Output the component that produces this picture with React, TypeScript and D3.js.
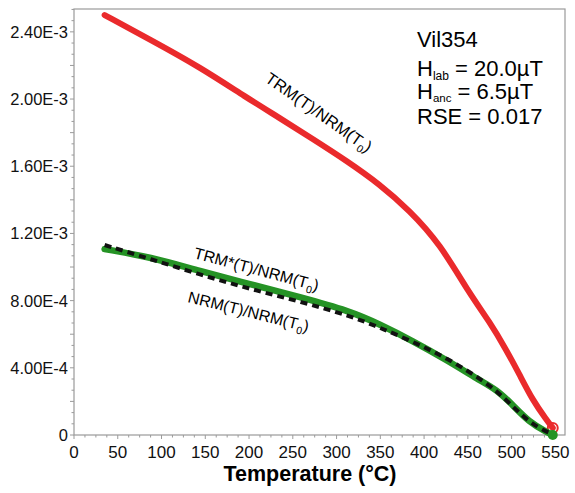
import React from 'react';
import * as d3 from 'd3';

const W = 575;
const H = 493;
const plot = { left: 74, top: 9, right: 565, bottom: 435 };

const xTicks = [0, 50, 100, 150, 200, 250, 300, 350, 400, 450, 500, 550];
const yTicks = [0, 4e-4, 8e-4, 1.2e-3, 1.6e-3, 2.0e-3, 2.4e-3];
const yTickLabels = ['0', '4.00E-4', '8.00E-4', '1.20E-3', '1.60E-3', '2.00E-3', '2.40E-3'];

// TRM(T)/NRM(T0)
const trmTemps = [35, 87, 144, 197, 235, 273, 312, 349, 383, 418, 452, 475, 494, 509, 524, 540, 547];
const trmValues = [
  2.5e-3, 2.354e-3, 2.19e-3, 2.009e-3, 1.887e-3, 1.762e-3, 1.631e-3, 1.494e-3, 1.339e-3,
  1.14e-3, 0.84e-3, 0.673e-3, 0.506e-3, 0.36e-3, 0.208e-3, 0.089e-3, 0.042e-3,
];

// TRM*(T)/NRM(T0)
const trmStarTemps = [35, 87, 144, 201, 258, 315, 349, 387, 426, 463, 483, 501, 520, 540, 547];
const trmStarValues = [
  1.107e-3, 1.06e-3, 0.975e-3, 0.899e-3, 0.821e-3, 0.738e-3, 0.66e-3, 0.56e-3, 0.446e-3,
  0.327e-3, 0.27e-3, 0.18e-3, 0.077e-3, 0.018e-3, 0.0,
];

// NRM(T)/NRM(T0)
const nrmTemps = [35, 87, 144, 201, 258, 315, 349, 387, 426, 463, 483, 501, 520, 540, 547];
const nrmValues = [
  1.131e-3, 1.048e-3, 0.955e-3, 0.869e-3, 0.795e-3, 0.71e-3, 0.64e-3, 0.556e-3, 0.458e-3,
  0.339e-3, 0.262e-3, 0.172e-3, 0.077e-3, 0.018e-3, 0.006e-3,
];

const font = 'Arial, "Liberation Sans", sans-serif';
const axisColor = '#9a9a9a';

export default function App() {
  const x = d3.scaleLinear().domain([0, 561]).range([plot.left, plot.right]);
  const y = d3.scaleLinear().domain([0, 2.536e-3]).range([plot.bottom, plot.top]);

  const line = (temps: number[], vals: number[]) =>
    d3
      .line<number>()
      .x((_, i) => x(temps[i]))
      .y((d) => y(d))
      .curve(d3.curveBasis)(vals) || '';

  const xMinor = d3.range(0, 561, 12.5);
  const yMinor = d3.range(0, 2.536e-3, 4e-4 / 6);

  const last = (a: number[]) => a[a.length - 1];

  return (
    <svg
      width={W}
      height={H}
      style={{ position: 'absolute', left: 0, top: 0, background: '#fff' }}
      fontFamily={font}
    >
      {/* frame */}
      <rect
        x={plot.left}
        y={plot.top}
        width={plot.right - plot.left}
        height={plot.bottom - plot.top}
        fill="none"
        stroke={axisColor}
        strokeWidth={1.2}
      />

      {/* y ticks */}
      {yMinor.map((v, i) => (
        <line
          key={'ym' + i}
          x1={plot.left - (i % 3 === 0 ? 4 : 2.5)}
          x2={plot.left}
          y1={y(v)}
          y2={y(v)}
          stroke={axisColor}
        />
      ))}
      {yTicks.map((v, i) => (
        <text key={'yt' + i} x={68} y={y(v) + 6} textAnchor="end" fontSize={16.5} fill="#111">
          {yTickLabels[i]}
        </text>
      ))}

      {/* x ticks */}
      {xMinor.map((v, i) => (
        <line
          key={'xm' + i}
          x1={x(v)}
          x2={x(v)}
          y1={plot.bottom}
          y2={plot.bottom + (i % 4 === 0 ? 4 : 2.5)}
          stroke={axisColor}
        />
      ))}
      {xTicks.map((v) => (
        <text key={'xt' + v} x={x(v)} y={plot.bottom + 23} textAnchor="middle" fontSize={17} fill="#111">
          {v}
        </text>
      ))}

      <text x={310} y={481} textAnchor="middle" fontSize={21.5} fontWeight="bold" fill="#000">
        Temperature (°C)
      </text>

      {/* curves */}
      <path
        d={line(trmTemps, trmValues)}
        fill="none"
        stroke="#ea2a2c"
        strokeWidth={6}
        strokeLinecap="round"
        strokeLinejoin="round"
      />
      <circle cx={x(last(trmTemps))} cy={y(last(trmValues))} r={5} fill="none" stroke="#ea2a2c" strokeWidth={2} />
      <path
        d={line(trmStarTemps, trmStarValues)}
        fill="none"
        stroke="#259325"
        strokeWidth={6.5}
        strokeLinecap="round"
        strokeLinejoin="round"
      />
      <circle cx={x(last(trmStarTemps))} cy={y(last(trmStarValues))} r={5} fill="#259325" />
      <path
        d={line(nrmTemps, nrmValues)}
        fill="none"
        stroke="#111"
        strokeWidth={4}
        strokeDasharray="7 5"
      />

      {/* curve labels */}
      <text transform="translate(264,81) rotate(35)" fontSize={16.5} fill="#000">
        TRM(T)/NRM(T<tspan dy={4} fontSize={10.5}>0</tspan>
        <tspan dy={-4}>)</tspan>
      </text>
      <text transform="translate(193,258) rotate(15)" fontSize={16} fill="#000">
        TRM*(T)/NRM(T<tspan dy={4} fontSize={10.5}>0</tspan>
        <tspan dy={-4}>)</tspan>
      </text>
      <text transform="translate(187,302) rotate(14)" fontSize={16} fill="#000">
        NRM(T)/NRM(T<tspan dy={4} fontSize={10.5}>0</tspan>
        <tspan dy={-4}>)</tspan>
      </text>

      {/* info box */}
      <g fontSize={22} fill="#000">
        <text x={417} y={47}>Vil354</text>
        <text x={417} y={76}>
          H<tspan dy={4} fontSize={12}>lab</tspan>
          <tspan dy={-4}> = 20.0µT</tspan>
        </text>
        <text x={417} y={99}>
          H<tspan dy={2.5} fontSize={11.5}>anc</tspan>
          <tspan dy={-2.5}> = 6.5µT</tspan>
        </text>
        <text x={417} y={124}>RSE = 0.017</text>
      </g>
    </svg>
  );
}
